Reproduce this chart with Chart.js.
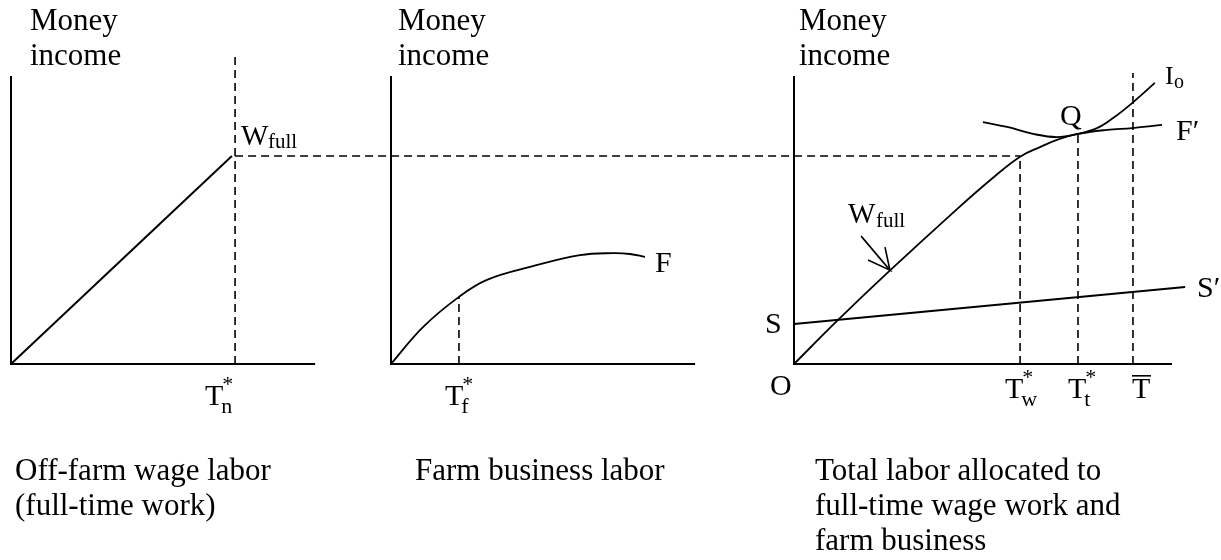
<!DOCTYPE html>
<html>
<head>
<meta charset="utf-8">
<script src="https://cdn.jsdelivr.net/npm/chart.js@4.4.0/dist/chart.umd.min.js"></script>
<style>
  html, body { margin: 0; padding: 0; background: #fff; }
  canvas { display: block; }
</style>
</head>
<body>
<canvas id="diagram" width="1221" height="560"></canvas>
<script>
// all values in "income units": each panel's vertical axis is 100 units tall

// panel 1 - off-farm wage labor
var wageHours = [0, 76.7];
var wageIncome = [0, 72.2];
var tnStar = 77.8;
var wFull = 72.2;

// panel 2 - farm business labor
var farmHours = [0, 11.1, 23.6, 33.3, 48.3, 65.6, 77.1, 83.0, 88.2];
var farmIncome = [0, 12.8, 23.3, 29.2, 33.7, 37.8, 38.5, 38.2, 37.2];
var tfStar = 23.6;
var farmAtTf = 23.3;

// panel 3 - total labor
var totalHours = [0, 15.3, 32.6, 56.6, 69.0, 78.5, 85.4, 91.3, 98.6, 108.7, 117.4, 127.8];
var totalIncome = [0, 15.3, 31.8, 53.8, 64.6, 72.0, 75.3, 77.8, 79.9, 81.3, 81.9, 83.0];
var indiffHours = [65.6, 74.0, 83.0, 91.3, 98.6, 105.2, 110.8, 117.4, 125.3];
var indiffIncome = [84.0, 82.3, 79.9, 78.8, 79.9, 81.9, 85.4, 90.6, 97.6];
var subsHours = [0, 135.8];
var subsIncome = [13.9, 26.7];
var twStar = 78.5;
var ttStar = 98.6;
var incomeAtQ = 79.9;
var tBar = 117.7;
var tBarTop = 101;
var arrowHours = [23.3, 33.3, 25.7, 33.3, 31.6];
var arrowIncome = [44.4, 32.6, 36.1, 32.6, 40.6];

var axisTop = 100;
var axisLen = [105.6, 105.6, 131.25];

// layout
var U = 2.88;               // pixels per unit
var W = 1221, H = 560;
var originY = 364;
var panelLeft = [11, 391, 794];
var off = panelLeft.map(function (p) { return p / U; });

function pts(panel, xs, ys) {
  return xs.map(function (x, i) { return { x: off[panel] + x, y: ys[i] }; });
}

function solid(data, smooth) {
  return {
    data: data, showLine: true, pointRadius: 0, borderColor: '#000',
    borderWidth: smooth ? 1.8 : 2, tension: smooth ? 0.4 : 0
  };
}

function dashed(data) {
  return {
    data: data, showLine: true, pointRadius: 0, borderColor: '#000',
    borderWidth: 1.6, borderDash: [8, 5], tension: 0
  };
}

function axes(panel) {
  return solid(pts(panel, [0, 0, axisLen[panel]], [axisTop, 0, 0]), false);
}

var datasets = [
  axes(0), axes(1), axes(2),
  solid(pts(0, wageHours, wageIncome), false),
  dashed(pts(0, [tnStar, tnStar], [0, 107.6])),
  dashed([{ x: off[0] + tnStar, y: wFull }, { x: off[2] + twStar, y: wFull }]),
  solid(pts(1, farmHours, farmIncome), true),
  dashed(pts(1, [tfStar, tfStar], [0, farmAtTf])),
  solid(pts(2, totalHours, totalIncome), true),
  solid(pts(2, indiffHours, indiffIncome), true),
  solid(pts(2, subsHours, subsIncome), false),
  dashed(pts(2, [twStar, twStar], [0, wFull])),
  dashed(pts(2, [ttStar, ttStar], [0, incomeAtQ])),
  dashed(pts(2, [tBar, tBar], [0, tBarTop])),
  solid(pts(2, arrowHours, arrowIncome), false)
];
datasets[datasets.length - 1].borderWidth = 1.6;

var SERIF = '"Liberation Serif", "Times New Roman", serif';

function txt(ctx, s, x, y, size) {
  ctx.font = size + 'px ' + SERIF;
  ctx.fillText(s, x, y);
}

// symbol label: main letter with optional superscript star and subscript
function sym(ctx, main, sub, star, x, y) {
  txt(ctx, main, x, y, 30);
  var w = ctx.measureText(main).width;
  if (star) txt(ctx, '*', x + w - 1, y - 14, 22);
  if (sub) txt(ctx, sub, x + w - 2, y + 8, 22);
}

var labelsPlugin = {
  id: 'labels',
  afterDraw: function (chart) {
    var ctx = chart.ctx;
    ctx.save();
    ctx.fillStyle = '#000';
    ctx.textBaseline = 'alphabetic';
    ctx.textAlign = 'left';

    // axis titles
    [30, 398, 799].forEach(function (x) {
      txt(ctx, 'Money', x, 30, 31);
      txt(ctx, 'income', x, 65, 31);
    });

    // panel 1
    txt(ctx, 'W', 241, 145, 29);
    txt(ctx, 'full', 268, 148, 21);
    sym(ctx, 'T', 'n', true, 205, 405);

    // panel 2
    txt(ctx, 'F', 655, 272, 30);
    sym(ctx, 'T', 'f', true, 445, 405);

    // panel 3
    txt(ctx, 'I', 1165, 84, 26);
    txt(ctx, 'o', 1174, 88, 20);
    txt(ctx, 'Q', 1060, 125, 30);
    txt(ctx, 'F\u2032', 1176, 140, 30);
    txt(ctx, 'S\u2032', 1197, 297, 30);
    txt(ctx, 'S', 765, 333, 30);
    txt(ctx, 'O', 770, 395, 30);
    txt(ctx, 'W', 848, 223, 29);
    txt(ctx, 'full', 876, 227, 21);
    sym(ctx, 'T', 'w', true, 1005, 398);
    sym(ctx, 'T', 't', true, 1068, 398);
    txt(ctx, 'T', 1132, 398, 30);
    ctx.fillRect(1132, 375, 19, 1.6);

    // captions
    txt(ctx, 'Off-farm wage labor', 15, 480, 31);
    txt(ctx, '(full-time work)', 15, 515, 31);
    txt(ctx, 'Farm business labor', 415, 480, 31);
    txt(ctx, 'Total labor allocated to', 815, 480, 31);
    txt(ctx, 'full-time wage work and', 815, 515, 31);
    txt(ctx, 'farm business', 815, 550, 31);
    ctx.restore();
  }
};

new Chart(document.getElementById('diagram').getContext('2d'), {
  type: 'scatter',
  data: { datasets: datasets },
  options: {
    responsive: false,
    animation: false,
    devicePixelRatio: 1,
    layout: { padding: 0 },
    plugins: { legend: { display: false }, tooltip: { enabled: false } },
    scales: {
      x: { type: 'linear', display: false, min: 0, max: W / U },
      y: { type: 'linear', display: false, min: -(H - originY) / U, max: originY / U }
    }
  },
  plugins: [labelsPlugin]
});
</script>
</body>
</html>
